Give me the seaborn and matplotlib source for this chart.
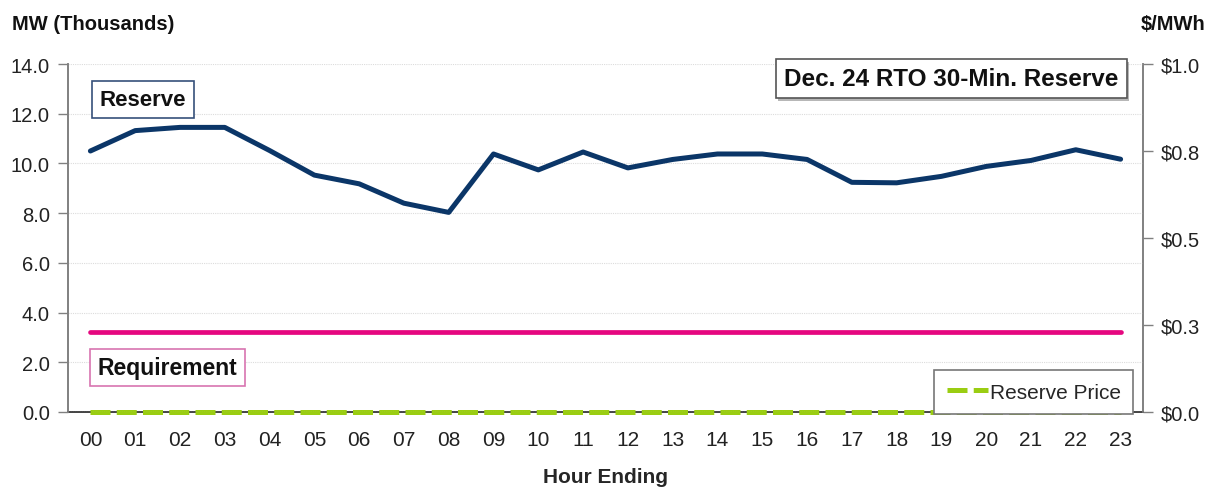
import numpy as np
import pandas as pd
import matplotlib
matplotlib.use("Agg")
import matplotlib.pyplot as plt
import matplotlib.patheffects as pe
import seaborn as sns

# Hourly data, Dec. 24
hours = ["00", "01", "02", "03", "04", "05", "06", "07", "08", "09", "10", "11",
         "12", "13", "14", "15", "16", "17", "18", "19", "20", "21", "22", "23"]
reserve_mw = [10.50, 11.32, 11.45, 11.45, 10.52, 9.53, 9.18, 8.40, 8.03, 10.38, 9.74, 10.46,
              9.82, 10.16, 10.38, 10.38, 10.16, 9.24, 9.22, 9.48, 9.88, 10.12, 10.55, 10.17]
requirement_mw = [3.22] * 24
reserve_price = [0.0] * 24

left_ticks = [0.0, 2.0, 4.0, 6.0, 8.0, 10.0, 12.0, 14.0]
right_ticks = [0.0, 0.25, 0.5, 0.75, 1.0]
right_tick_labels = ["$0.0", "$0.3", "$0.5", "$0.8", "$1.0"]

NAVY = "#0b3668"
PINK = "#e5077f"
GREEN = "#9acd12"

sns.set_theme(style="white")
plt.rcParams["font.family"] = ["Liberation Sans", "DejaVu Sans"]

df = pd.DataFrame({
    "pos": np.arange(len(hours)),
    "reserve": reserve_mw,
    "requirement": requirement_mw,
    "price": reserve_price,
})

fig = plt.figure(figsize=(12.10, 4.89), dpi=100)
ax = fig.add_axes([68 / 1210, 1 - 413 / 489, (1143 - 68) / 1210, 348 / 489])
ax2 = ax.twinx()

# Price on the right axis, beneath the MW series
ax2.set_zorder(1)
ax.set_zorder(2)
ax.patch.set_visible(False)

sns.lineplot(data=df, x="pos", y="price", ax=ax2, color=GREEN, lw=3.6,
             label="Reserve Price", legend=False, clip_on=False)
price_line = ax2.lines[-1]
price_line.set_dashes([4.0, 1.25])
price_line.set_dash_capstyle("butt")
price_line.set_zorder(3)

sns.lineplot(data=df, x="pos", y="requirement", ax=ax, color=PINK, lw=3.4, legend=False)
sns.lineplot(data=df, x="pos", y="reserve", ax=ax, color=NAVY, lw=3.6, legend=False)

# Left axis
ax.set_xlim(-0.5, len(hours) - 0.5)
ax.set_ylim(0, 14)
ax.set_yticks(left_ticks)
ax.set_yticklabels([f"{v:.1f}" for v in left_ticks], fontsize=14.5)
ax.set_xticks(np.arange(len(hours)))
ax.set_xticklabels(hours, fontsize=15)
ax.set_xticks(np.arange(len(hours) + 1) - 0.5, minor=True)
ax.tick_params(axis="x", which="major", length=0, pad=13, colors="#222222")
ax.tick_params(axis="x", which="minor", length=7, width=1.0, color="#333333", direction="out")
ax.tick_params(axis="y", length=7, width=1.0, color="#808080", direction="out", pad=6,
               labelcolor="#222222", left=True)
ax.set_xlabel("Hour Ending", fontsize=15, fontweight="bold", labelpad=13)
ax.set_ylabel("")
ax.grid(axis="y", color="#dcdcdc", lw=0.8, ls=(0, (1, 1)))
ax.set_axisbelow(True)

# Right axis
ax2.set_ylim(0, 1.0)
ax2.set_yticks(right_ticks)
ax2.set_yticklabels(right_tick_labels, fontsize=14.5)
ax2.tick_params(axis="y", length=7, width=1.0, color="#808080", direction="out", pad=6,
                labelcolor="#222222", right=True)
ax2.set_ylabel("")
ax2.grid(False)

for a in (ax, ax2):
    a.spines["top"].set_visible(False)
    a.spines["left"].set_color("#808080")
    a.spines["right"].set_color("#808080")
    a.spines["bottom"].set_color("#222222")
    for s in ("left", "right", "bottom"):
        a.spines[s].set_linewidth(1.2)
# the baseline comes from the price axis so the dashes sit on top of it
ax.spines["bottom"].set_visible(False)

# Axis unit titles
fig.text(12 / 1210, 1 - 24 / 489, "MW (Thousands)", fontsize=14.5, fontweight="bold",
         ha="left", va="center", color="#111111")
fig.text(1205 / 1210, 1 - 24 / 489, "$/MWh", fontsize=14.5, fontweight="bold",
         ha="right", va="center", color="#111111")

# Series labels
ax.text(0.0698, 0.898, "Reserve", transform=ax.transAxes, fontsize=16, fontweight="bold",
        ha="center", va="center", color="#111111",
        bbox=dict(boxstyle="square,pad=0.36", fc="white", ec="#36507a", lw=1.2))
ax.text(0.0925, 0.128, "Requirement", transform=ax.transAxes, fontsize=16.5, fontweight="bold",
        ha="center", va="center", color="#111111",
        bbox=dict(boxstyle="square,pad=0.32", fc="white", ec="#d874b0", lw=1.2))

title = ax.text(0.8215, 0.958, "Dec. 24 RTO 30-Min. Reserve", transform=ax.transAxes,
                fontsize=17.5, fontweight="bold", ha="center", va="center", color="#111111",
                bbox=dict(boxstyle="square,pad=0.34", fc="white", ec="#555555", lw=1.2))
title.get_bbox_patch().set_path_effects([
    pe.SimplePatchShadow(offset=(2, -2), shadow_rgbFace="#888888", alpha=0.6), pe.Normal()])

leg = ax2.legend(handles=[price_line], labels=["Reserve Price"], loc="lower right",
                 bbox_to_anchor=(0.9907, -0.006), fontsize=15, frameon=True, fancybox=False,
                 edgecolor="#777777", framealpha=1.0, handlelength=2.0, handletextpad=0.05,
                 borderpad=0.6, borderaxespad=0)
leg.get_frame().set_linewidth(1.2)
leg.set_zorder(10)

fig.savefig("out.png", dpi=100, facecolor="white")
